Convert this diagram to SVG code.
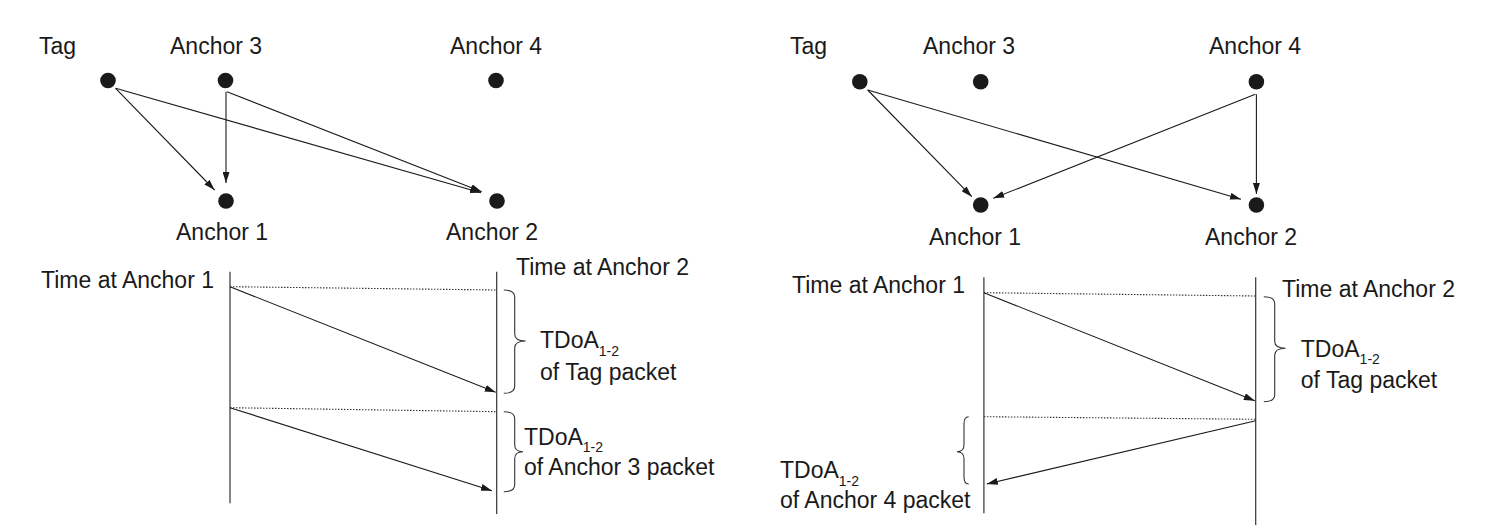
<svg xmlns="http://www.w3.org/2000/svg" width="1509" height="532" viewBox="0 0 1509 532">
<style>
text{font-family:"Liberation Sans",Arial,sans-serif;font-size:23px;fill:#1a1a1a}
.sub{font-size:14px}
.dot{fill:#1a1a1a}
.arr{stroke:#1a1a1a;stroke-width:1.1;fill:none;marker-end:url(#ah)}
.tl{stroke:#333;stroke-width:1.2;fill:none}
.dt{stroke:#333;stroke-width:1.1;stroke-dasharray:1.5,1.5;fill:none}
.br{stroke:#333;stroke-width:1.1;fill:none}
</style>
<defs>
<marker id="ah" viewBox="0 0 11 7" refX="11" refY="3.5" markerWidth="11" markerHeight="7" orient="auto" markerUnits="userSpaceOnUse"><path d="M0,0 L11,3.5 L0,7 z" fill="#1a1a1a"/></marker>
</defs>
<rect width="1509" height="532" fill="#fff"/>

<!-- Left panel nodes -->
<g id="L-tag"><circle class="dot" cx="108" cy="80.5" r="7.8"/><text x="39" y="53.5">Tag</text></g>
<g id="L-anchor3"><circle class="dot" cx="225.5" cy="80.5" r="7.8"/><text x="170" y="53.5">Anchor 3</text></g>
<g id="L-anchor4"><circle class="dot" cx="496" cy="80.5" r="7.8"/><text x="450" y="53.5">Anchor 4</text></g>
<g id="L-anchor1"><circle class="dot" cx="226" cy="201" r="7.8"/><text x="176" y="240">Anchor 1</text></g>
<g id="L-anchor2"><circle class="dot" cx="497" cy="201" r="7.8"/><text x="446" y="240">Anchor 2</text></g>

<!-- Right panel nodes -->
<g id="R-tag"><circle class="dot" cx="859.8" cy="81.7" r="7.8"/><text x="790" y="54">Tag</text></g>
<g id="R-anchor3"><circle class="dot" cx="980.7" cy="81.7" r="7.8"/><text x="923" y="54">Anchor 3</text></g>
<g id="R-anchor4"><circle class="dot" cx="1256.4" cy="81.7" r="7.8"/><text x="1209" y="54">Anchor 4</text></g>
<g id="R-anchor1"><circle class="dot" cx="980.7" cy="205" r="7.8"/><text x="929" y="245">Anchor 1</text></g>
<g id="R-anchor2"><circle class="dot" cx="1256.4" cy="205" r="7.8"/><text x="1205" y="245">Anchor 2</text></g>

<!-- Left timing diagram -->
<g id="L-time1"><line class="tl" x1="230" y1="271.7" x2="230" y2="503.3"/><text x="41" y="288">Time at Anchor 1</text></g>
<g id="L-time2"><line class="tl" x1="496.7" y1="271.7" x2="496.7" y2="514"/><text x="516" y="275">Time at Anchor 2</text></g>
<g id="L-tdoa-tag">
<path class="br" d="M503.8,290 Q514.7,290 514.7,297 L514.7,334 Q514.7,341 525.6,341 Q514.7,341 514.7,348 L514.7,386.3 Q514.7,393.3 503.8,393.3"/>
<text x="540" y="348.3">TDoA<tspan class="sub" dy="7.7">1-2</tspan></text>
<text x="540" y="380">of Tag packet</text>
</g>
<g id="L-tdoa-a3">
<path class="br" d="M503.8,411.7 Q514.7,411.7 514.7,418.7 L514.7,444.7 Q514.7,451.7 523,451.7 Q514.7,451.7 514.7,458.7 L514.7,484.7 Q514.7,491.7 503.8,491.7"/>
<text x="524" y="445">TDoA<tspan class="sub" dy="6.7">1-2</tspan></text>
<text x="524" y="475">of Anchor 3 packet</text>
</g>

<!-- Right timing diagram -->
<g id="R-time1"><line class="tl" x1="983.9" y1="277.3" x2="983.9" y2="513.3"/><text x="792" y="293.3">Time at Anchor 1</text></g>
<g id="R-time2"><line class="tl" x1="1255.7" y1="277.3" x2="1255.7" y2="525"/><text x="1282" y="296.7">Time at Anchor 2</text></g>
<g id="R-tdoa-tag">
<path class="br" d="M1263.8,296.7 Q1274.7,296.7 1274.7,303.7 L1274.7,341.3 Q1274.7,348.3 1285.6,348.3 Q1274.7,348.3 1274.7,355.3 L1274.7,394.7 Q1274.7,401.7 1263.8,401.7"/>
<text x="1300.8" y="356.7">TDoA<tspan class="sub" dy="7.3">1-2</tspan></text>
<text x="1300.8" y="388.3">of Tag packet</text>
</g>
<g id="R-tdoa-a4">
<path class="br" d="M968.7,416.7 Q964,416.7 964,423.7 L964,444.7 Q964,451.7 956.9,451.7 Q964,451.7 964,458.7 L964,477 Q964,484 968.7,484"/>
<text x="780" y="478.3">TDoA<tspan class="sub" dy="7.7">1-2</tspan></text>
<text x="780" y="508.3">of Anchor 4 packet</text>
</g>

<!-- Connectors -->
<g id="connectors">
<line class="arr" x1="115.6" y1="88.3" x2="214.6" y2="190"/>
<line class="arr" x1="115.6" y1="88.3" x2="481" y2="192.7"/>
<line class="arr" x1="226" y1="91.7" x2="226" y2="183"/>
<line class="arr" x1="227" y1="91.7" x2="481.7" y2="191.7"/>

<line class="arr" x1="867.7" y1="90" x2="971.8" y2="196.7"/>
<line class="arr" x1="867.7" y1="90" x2="1241" y2="199.3"/>
<line class="arr" x1="1255.3" y1="94.3" x2="993.3" y2="198.3"/>
<line class="arr" x1="1256.4" y1="94.3" x2="1256.4" y2="194"/>

<line class="dt" x1="230" y1="286.7" x2="496.7" y2="290"/>
<line class="arr" x1="230" y1="286.7" x2="495.7" y2="392.3"/>
<line class="dt" x1="230" y1="407.7" x2="496.7" y2="411.7"/>
<line class="arr" x1="230" y1="407.7" x2="492" y2="490.7"/>

<line class="dt" x1="983.9" y1="292.7" x2="1255.7" y2="296"/>
<line class="arr" x1="983.9" y1="292.7" x2="1254.8" y2="400.7"/>
<line class="dt" x1="983.9" y1="416.7" x2="1255.7" y2="419.3"/>
<line class="arr" x1="1255.7" y1="420.7" x2="986.8" y2="484"/>
</g>
</svg>
